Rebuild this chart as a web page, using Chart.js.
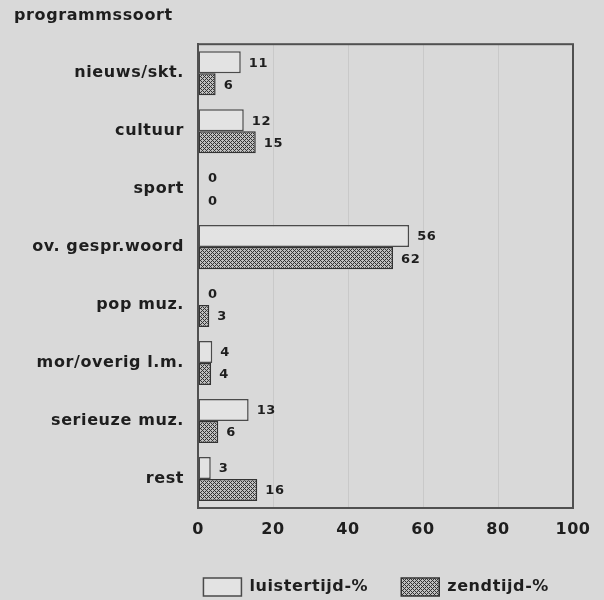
<!DOCTYPE html>
<html>
<head>
<meta charset="utf-8">
<script src="https://cdn.jsdelivr.net/npm/chart.js@4.4.1/dist/chart.umd.min.js"></script>
<style>
  html, body { margin: 0; padding: 0; background: #d9d9d9; }
  #wrap { width: 604px; height: 600px; }
</style>
</head>
<body>
<div id="wrap"><canvas id="chart"></canvas></div>
<script>
// categories, top to bottom
const categories = ["nieuws/skt.", "cultuur", "sport", "ov. gespr.woord",
    "pop muz.", "mor/overig l.m.", "serieuze muz.", "rest"];

// bar lengths as drawn in the picture
const luisterValues = [11.4, 12.2, 0, 56.3, 0, 3.8, 13.5, 3.4];
const zendValues = [4.7, 15.4, 0, 52, 3, 3.5, 5.4, 15.8];

// numbers printed next to the bars
const luisterPrinted = ["11", "12", "0", "56", "0", "4", "13", "3"];
const zendPrinted = ["6", "15", "0", "62", "3", "4", "6", "16"];

const xTicks = [0, 20, 40, 60, 80, 100];

const INK = "#1e1e1e";
const FONT = "'DejaVu Sans', sans-serif";

// crosshatch fill for zendtijd
function makeHatch() {
    const c = document.createElement("canvas");
    c.width = 4; c.height = 4;
    const g = c.getContext("2d");
    g.fillStyle = "#c0c0c0";
    g.fillRect(0, 0, 4, 4);
    g.fillStyle = "#333333";
    for (let x = 0; x < 4; x++) {
        for (let y = 0; y < 4; y++) {
            if ((x + y) % 4 === 0 || (x - y + 4) % 4 === 0) g.fillRect(x, y, 1, 1);
        }
    }
    return document.getElementById("chart").getContext("2d").createPattern(c, "repeat");
}
const hatch = makeHatch();

function spacing(chart) {
    chart.ctx.letterSpacing = "0.6px";
}

const bgAndFrame = {
    id: "bgAndFrame",
    beforeUpdate(chart) { spacing(chart); },
    afterLayout(chart) {
        // legend sits a bit right of the plot's right edge in the original
        chart.legend.left += 9;
        chart.legend.right += 9;
    },
    beforeDraw(chart) {
        spacing(chart);
        const ctx = chart.ctx;
        ctx.save();
        ctx.fillStyle = "#d9d9d9";
        ctx.fillRect(0, 0, chart.width, chart.height);
        ctx.restore();
    },
    afterDraw(chart) {
        const a = chart.chartArea;
        const ctx = chart.ctx;
        ctx.save();
        ctx.strokeStyle = "#505050";
        ctx.lineWidth = 2;
        ctx.strokeRect(a.left, a.top, a.right - a.left, a.bottom - a.top);
        ctx.restore();
    }
};

const barNumbers = {
    id: "barNumbers",
    afterDatasetsDraw(chart) {
        const ctx = chart.ctx;
        const printed = [luisterPrinted, zendPrinted];
        ctx.save();
        ctx.font = "bold 13px " + FONT;
        ctx.fillStyle = INK;
        ctx.textAlign = "left";
        ctx.textBaseline = "middle";
        chart.data.datasets.forEach((ds, di) => {
            chart.getDatasetMeta(di).data.forEach((bar, i) => {
                const off = ds.data[i] === 0 ? 10 : 8;
                ctx.fillText(printed[di][i], bar.x + off, bar.y + 1);
            });
        });
        ctx.restore();
    }
};

new Chart(document.getElementById("chart"), {
    type: "bar",
    data: {
        labels: categories,
        datasets: [
            {
                label: "luistertijd-%",
                data: luisterValues,
                backgroundColor: "#e3e3e3",
                borderColor: "#4a4a4a",
                borderWidth: 1.5,
                borderSkipped: false
            },
            {
                label: "zendtijd-%",
                data: zendValues,
                backgroundColor: hatch,
                borderColor: "#333333",
                borderWidth: 1.5,
                borderSkipped: false
            }
        ]
    },
    options: {
        indexAxis: "y",
        responsive: true,
        maintainAspectRatio: false,
        animation: false,
        categoryPercentage: 0.76,
        barPercentage: 1.0,
        layout: { padding: { left: 14, right: 31, top: 0, bottom: -6 } },
        scales: {
            x: {
                min: 0,
                max: 100,
                afterBuildTicks(scale) {
                    scale.ticks = xTicks.map(v => ({ value: v }));
                },
                afterFit(scale) { scale.height = 37; },
                grid: {
                    color: "#c9c9c9",
                    lineWidth: 1,
                    drawTicks: false
                },
                border: { color: "#505050", width: 2 },
                ticks: {
                    padding: 12,
                    color: INK,
                    font: { family: FONT, size: 16, weight: "bold" }
                }
            },
            y: {
                afterFit(scale) { scale.width = 184; },
                grid: { display: false, drawTicks: false },
                border: { color: "#505050", width: 2 },
                ticks: {
                    padding: 14,
                    color: INK,
                    font: { family: FONT, size: 16, weight: "bold" }
                }
            }
        },
        plugins: {
            title: {
                display: true,
                text: "programmssoort",
                align: "start",
                color: INK,
                font: { family: FONT, size: 16, weight: "bold" },
                padding: { top: 6, bottom: 19 }
            },
            legend: {
                position: "bottom",
                align: "end",
                labels: {
                    color: INK,
                    boxWidth: 38,
                    boxHeight: 18,
                    padding: 33,
                    font: { family: FONT, size: 16, weight: "bold" }
                }
            },
            tooltip: { enabled: false }
        }
    },
    plugins: [bgAndFrame, barNumbers]
});
</script>
</body>
</html>
